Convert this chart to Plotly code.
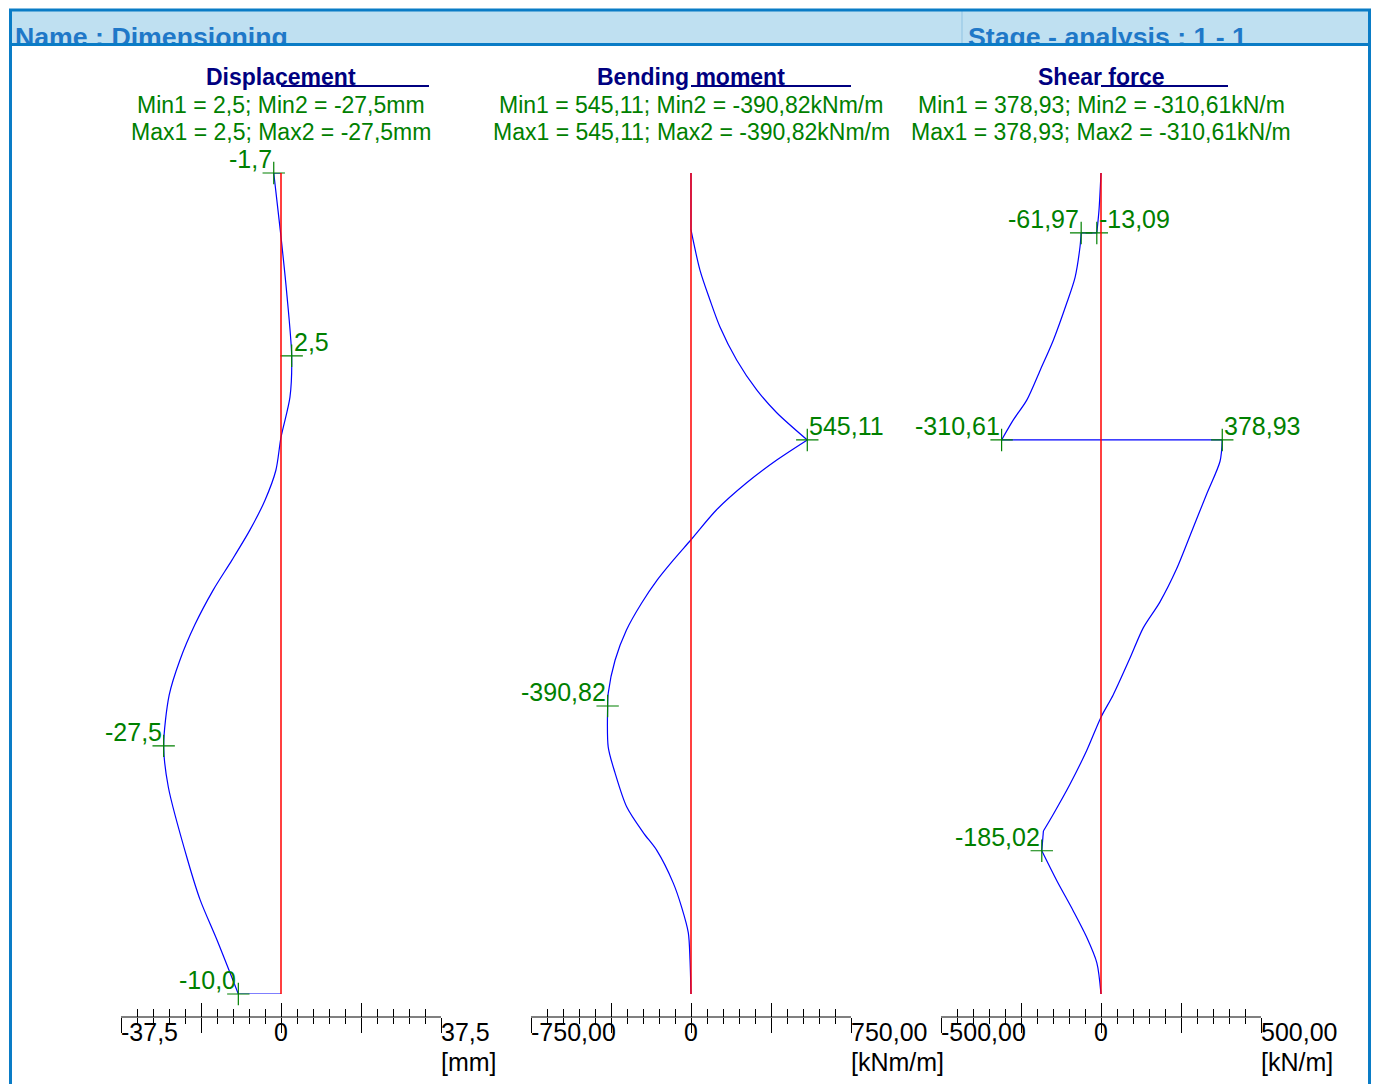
import plotly.graph_objects as go

W, H = 1375, 1084
FONT = "Liberation Sans, Arial, sans-serif"
GREEN = "#008000"
NAVY = "#000080"
BLUE = "#0000ff"
RED = "#ff0000"
FRAME = "#0a7cc6"

WALL_LENGTH = 13.7  # m

# ---------------- Displacement [mm] ----------------
disp_depth = [0.00, 0.00, 1.00, 2.00, 3.05, 3.74, 4.41, 4.96, 5.46, 5.96, 6.46, 6.96,
              7.54, 8.13, 8.71, 9.56, 10.25, 11.46, 12.13, 12.80, 13.70, 13.70]
disp_value = [0.0, -1.7, -0.1, 1.34, 2.5, 2.1, 0.0, -1.2, -3.75, -7.3, -11.5, -15.9,
              -20.2, -23.7, -26.2, -27.5, -26.4, -21.9, -18.95, -15.0, -10.0, 0.0]
disp_cusps = []
disp_label_depth = [0.0, 3.05, 9.56, 13.70]
disp_label_value = [-1.7, 2.5, -27.5, -10.0]
disp_label_side = ["left", "right", "left", "left"]
disp_min = [2.5, -27.5]
disp_max = [2.5, -27.5]

# ---------------- Bending moment [kNm/m] ----------------
bend_depth = [0.00, 0.95, 1.62, 2.12, 2.57, 3.12, 3.62, 4.00, 4.455, 4.79, 5.17, 5.62,
              6.12, 6.46, 6.79, 7.18, 7.63, 8.13, 8.68, 8.894, 9.58, 10.01, 10.58, 11.01,
              11.30, 11.85, 12.25, 12.68, 13.13, 13.70]
bend_value = [0.0, 0.0, 42, 89, 136, 214, 308, 402, 545.11, 402, 261, 120,
              0, -83, -158, -232, -303, -356, -388, -390.82, -388, -356, -301, -223,
              -161, -83, -44, -12.5, -4.7, 0.0]
bend_cusps = [0.95, 4.455]
bend_label_depth = [4.455, 8.894]
bend_label_value = [545.11, -390.82]
bend_label_side = ["right", "left"]
bend_min = [545.11, -390.82]
bend_max = [545.11, -390.82]

# ---------------- Shear force [kN/m] ----------------
shear_depth = [0.00, 0.62, 1.00, 1.00, 1.23, 1.74, 2.17, 2.79, 3.29, 3.79, 4.12, 4.455,
               4.455, 4.81, 5.36, 5.92, 6.61, 7.16, 7.59, 8.09, 8.71, 9.08, 9.64, 10.20,
               10.70, 10.98, 11.31, 11.81, 12.31, 12.75, 13.18, 13.70]
shear_value = [0.0, -6.25, -13.09, -61.97, -65.6, -81, -107, -149, -190, -232, -274, -310.61,
               378.93, 372, 330, 288, 236, 184, 132, 91, 38, 0, -45, -97,
               -149, -180, -185.02, -138, -87, -45, -13, 0.0]
shear_cusps = [10.98, 11.31]
shear_label_depth = [1.00, 1.00, 4.455, 4.455, 11.31]
shear_label_value = [-61.97, -13.09, -310.61, 378.93, -185.02]
shear_label_side = ["left", "right", "left", "right", "left"]
shear_min = [378.93, -310.61]
shear_max = [378.93, -310.61]

# ---------------- panels ----------------
panel_titles = ["Displacement", "Bending moment", "Shear force"]
panel_units = ["mm", "kNm/m", "kN/m"]
panel_range = [37.5, 750.0, 500.0]
panel_decimals = [1, 2, 2]
axis_end_labels = [("-37,5", "37,5"), ("-750,00", "750,00"), ("-500,00", "500,00")]

panels = [
    (disp_depth, disp_value, disp_cusps, disp_label_depth, disp_label_value, disp_label_side, disp_min, disp_max),
    (bend_depth, bend_value, bend_cusps, bend_label_depth, bend_label_value, bend_label_side, bend_min, bend_max),
    (shear_depth, shear_value, shear_cusps, shear_label_depth, shear_label_value, shear_label_side, shear_min, shear_max),
]

# layout geometry (pixels)
panel_px = [(121, 441), (531, 851), (941, 1261)]
underline_px = [148, 188, 127]
TOP_PX, BOT_PX, AXIS_PX = 173, 994, 1017


def yp(px):
    return 1 - px / H


def xp(px):
    return px / W


def fmt(v, dec):
    return f"{v:.{dec}f}".replace(".", ",")


def split_segments(dep, val, cusps):
    """Split a curve at jumps (equal depth) and cusps so smooth parts can be splined."""
    segs = []
    cur = [(val[0], dep[0])]
    for k in range(1, len(dep)):
        p = (val[k], dep[k])
        if dep[k] == dep[k - 1]:
            segs.append(cur)
            segs.append([cur[-1], p])
            cur = [p]
        else:
            cur.append(p)
            if dep[k] in cusps:
                segs.append(cur)
                cur = [p]
    segs.append(cur)
    return [s for s in segs if len(s) > 1]


fig = go.Figure()
annotations = []
shapes = []
layout_axes = {}

for i, (dep, val, cusps, ldep, lval, lside, vmin, vmax) in enumerate(panels):
    xa = "x" if i == 0 else f"x{i + 1}"
    xo = f"x{i + 4}"
    dec = panel_decimals[i]
    R = panel_range[i]

    # curve
    for seg in split_segments(dep, val, cusps):
        fig.add_trace(go.Scatter(x=[p[0] for p in seg], y=[p[1] for p in seg], xaxis=xa, yaxis="y",
                                 mode="lines", line=dict(color=BLUE, width=1.2, shape="spline", smoothing=0.8),
                                 cliponaxis=False, hoverinfo="skip", showlegend=False))
    # zero line
    fig.add_trace(go.Scatter(x=[0, 0], y=[0, WALL_LENGTH], xaxis=xo, yaxis="y", mode="lines",
                             line=dict(color=RED, width=1.5), cliponaxis=False,
                             hoverinfo="skip", showlegend=False))
    # crosshair markers
    fig.add_trace(go.Scatter(x=lval, y=ldep, xaxis=xa, yaxis="y", mode="markers",
                             marker=dict(symbol="cross-thin", size=16,
                                         line=dict(color=GREEN, width=1.2)),
                             cliponaxis=False, hoverinfo="skip", showlegend=False))
    for v, d, s in zip(lval, ldep, lside):
        annotations.append(dict(xref=xa, yref="y", x=v, y=d, text=fmt(v, dec), showarrow=False,
                                xanchor="right" if s == "left" else "left", yanchor="bottom",
                                yshift=-2, font=dict(family=FONT, size=25, color=GREEN)))

    # titles
    annotations.append(dict(xref=xa, yref="paper", x=0, y=yp(77), text=f"<b>{panel_titles[i]}</b>",
                            showarrow=False, xanchor="center", yanchor="middle",
                            font=dict(family=FONT, size=23, color=NAVY)))
    unit = panel_units[i]
    annotations.append(dict(xref=xa, yref="paper", x=0, y=yp(105),
                            text=f"Min1 = {fmt(vmin[0], dec)}; Min2 = {fmt(vmin[1], dec)}{unit}",
                            showarrow=False, xanchor="center", yanchor="middle",
                            font=dict(family=FONT, size=23, color=GREEN)))
    annotations.append(dict(xref=xa, yref="paper", x=0, y=yp(131.5),
                            text=f"Max1 = {fmt(vmax[0], dec)}; Max2 = {fmt(vmax[1], dec)}{unit}",
                            showarrow=False, xanchor="center", yanchor="middle",
                            font=dict(family=FONT, size=23, color=GREEN)))
    shapes.append(dict(type="line", xref=xa, xsizemode="pixel", xanchor=0, x0=0, x1=underline_px[i],
                       yref="paper", y0=yp(86), y1=yp(86), line=dict(color=NAVY, width=2)))

    # axis labels
    lo, hi = axis_end_labels[i]
    tick_font = dict(family=FONT, size=25, color="#000000")
    annotations.append(dict(xref=xa, yref="paper", x=-R, y=yp(1032), text=lo, showarrow=False,
                            xanchor="left", yanchor="middle", xshift=-2, font=tick_font))
    annotations.append(dict(xref=xa, yref="paper", x=0, y=yp(1032), text="0", showarrow=False,
                            xanchor="center", yanchor="middle", font=tick_font))
    annotations.append(dict(xref=xa, yref="paper", x=R, y=yp(1032), text=hi, showarrow=False,
                            xanchor="left", yanchor="middle", xshift=-2, font=tick_font))
    annotations.append(dict(xref=xa, yref="paper", x=R, y=yp(1062), text=f"[{unit}]", showarrow=False,
                            xanchor="left", yanchor="middle", xshift=-2, font=tick_font))

    dom = [xp(panel_px[i][0]), xp(panel_px[i][1])]
    common = dict(domain=dom, range=[-R, R], anchor="free", position=yp(AXIS_PX),
                  showgrid=False, zeroline=False, showticklabels=False, fixedrange=True,
                  tick0=0, dtick=R / 2, tickcolor="#000000", tickwidth=1)
    key = "xaxis" if i == 0 else f"xaxis{i + 1}"
    layout_axes[key] = dict(common, ticks="outside", ticklen=15, showline=True,
                            linecolor="#808080", linewidth=2,
                            minor=dict(ticks="outside", ticklen=6, dtick=R / 10, tick0=0,
                                       tickcolor="#000000", tickwidth=1, showgrid=False))
    layout_axes[f"xaxis{i + 4}"] = dict(common, overlaying=xa, ticks="inside", ticklen=14,
                                        showline=False,
                                        minor=dict(ticks="inside", ticklen=8, dtick=R / 10, tick0=0,
                                                   tickcolor="#000000", tickwidth=1, showgrid=False))

# ---------------- page frame / header ----------------
shapes += [
    dict(type="rect", xref="paper", yref="paper", x0=xp(10.5), x1=xp(1369.5), y0=yp(10), y1=yp(44.5),
         fillcolor="#bfe0f1", line=dict(width=0), layer="below"),
    dict(type="line", xref="paper", yref="paper", x0=xp(962), x1=xp(962), y0=yp(11), y1=yp(43),
         line=dict(color="#8fc3e3", width=1)),
    dict(type="line", xref="paper", yref="paper", x0=xp(9), x1=xp(1371), y0=yp(10), y1=yp(10),
         line=dict(color=FRAME, width=3)),
    dict(type="line", xref="paper", yref="paper", x0=xp(9), x1=xp(1371), y0=yp(44.5), y1=yp(44.5),
         line=dict(color=FRAME, width=3)),
    dict(type="line", xref="paper", yref="paper", x0=xp(10.5), x1=xp(10.5), y0=yp(9), y1=yp(H),
         line=dict(color=FRAME, width=3)),
    dict(type="line", xref="paper", yref="paper", x0=xp(1369.5), x1=xp(1369.5), y0=yp(9), y1=yp(H),
         line=dict(color=FRAME, width=3)),
]
header_font = dict(family=FONT, size=26.7, color="#1f78c8")
annotations += [
    dict(xref="paper", yref="paper", x=xp(14), y=yp(21), text="<b>Name : Dimensioning</b>",
         showarrow=False, xanchor="left", yanchor="top", height=21, valign="top", borderpad=0,
         font=header_font),
    dict(xref="paper", yref="paper", x=xp(967), y=yp(21), text="<b>Stage - analysis : 1 - 1</b>",
         showarrow=False, xanchor="left", yanchor="top", height=21, valign="top", borderpad=0,
         font=header_font),
]

fig.update_layout(
    width=W, height=H, margin=dict(l=0, r=0, t=0, b=0),
    paper_bgcolor="white", plot_bgcolor="rgba(0,0,0,0)",
    yaxis=dict(domain=[yp(BOT_PX), yp(TOP_PX)], range=[WALL_LENGTH, 0], visible=False,
               fixedrange=True),
    annotations=annotations, shapes=shapes, showlegend=False,
    **layout_axes,
)

fig.write_html("out.html", config={"displayModeBar": False},
               post_script="document.body.style.margin='0';document.body.style.overflow='hidden';")
